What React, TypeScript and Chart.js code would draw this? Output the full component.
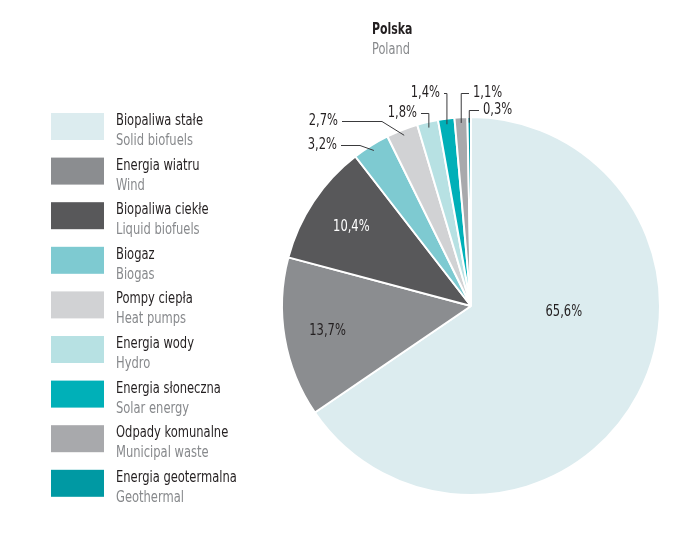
import React, { useEffect, useRef } from "react";
import { Chart, registerables } from "chart.js";

Chart.register(...registerables);

const categoriesPl = [
  "Biopaliwa stałe",
  "Energia wiatru",
  "Biopaliwa ciekłe",
  "Biogaz",
  "Pompy ciepła",
  "Energia wody",
  "Energia słoneczna",
  "Odpady komunalne",
  "Energia geotermalna",
];
const categoriesEn = [
  "Solid biofuels",
  "Wind",
  "Liquid biofuels",
  "Biogas",
  "Heat pumps",
  "Hydro",
  "Solar energy",
  "Municipal waste",
  "Geothermal",
];
const shares = [65.6, 13.7, 10.4, 3.2, 2.7, 1.8, 1.4, 1.1, 0.3];
const colors = [
  "#dcecef",
  "#8b8d90",
  "#58585a",
  "#7ecad1",
  "#d1d2d4",
  "#b7e1e3",
  "#00b0b8",
  "#a8a9ac",
  "#0099a3",
];
const titlePl = "Polska";
const titleEn = "Poland";

const FONT = "'DejaVu Sans Condensed', 'DejaVu Sans', sans-serif";
const DARK = "#231f20";
const GREY = "#87898c";
const SX = 0.8; // horizontal condensing of text

// label placement (relative to pie centre)
type Place =
  | { type: "in"; r: number; angle?: number; color?: string }
  | { type: "out"; side: "left" | "right"; tx: number; ty: number; elbowX?: number };
const placements: Place[] = [
  { type: "in", r: 93, angle: 3.7 },
  { type: "in", r: 0.77 },
  { type: "in", r: 0.76, color: "#ffffff" },
  { type: "out", side: "left", tx: -134, ty: -161, elbowX: -111 },
  { type: "out", side: "left", tx: -133, ty: -185, elbowX: -89 },
  { type: "out", side: "left", tx: -54, ty: -193 },
  { type: "out", side: "left", tx: -31, ty: -213 },
  { type: "out", side: "right", tx: 2, ty: -213 },
  { type: "out", side: "right", tx: 12, ty: -196 },
];

const fmt = (v: number) => v.toFixed(1).replace(".", ",") + "%";

function drawText(
  ctx: CanvasRenderingContext2D,
  text: string,
  x: number,
  y: number,
  align: CanvasTextAlign,
  sx = SX
) {
  ctx.save();
  ctx.translate(x, y);
  ctx.scale(sx, 1);
  ctx.textAlign = align;
  ctx.fillText(text, 0, 0);
  ctx.restore();
}

const overlay = {
  id: "overlay",
  afterDraw(chart: any) {
    const ctx = chart.ctx as CanvasRenderingContext2D;
    ctx.save();
    // title
    ctx.textBaseline = "alphabetic";
    ctx.fillStyle = DARK;
    ctx.font = `bold 16px ${FONT}`;
    drawText(ctx, titlePl, 364, 26, "left", 0.76);
    ctx.fillStyle = GREY;
    ctx.font = `16px ${FONT}`;
    drawText(ctx, titleEn, 364, 46, "left", 0.79);

    // legend
    for (let i = 0; i < categoriesPl.length; i++) {
      const top = 105 + i * 44.6;
      ctx.fillStyle = colors[i];
      ctx.fillRect(43, top, 53, 27);
      ctx.font = `16px ${FONT}`;
      ctx.fillStyle = DARK;
      drawText(ctx, categoriesPl[i], 108, top + 12, "left");
      ctx.fillStyle = GREY;
      drawText(ctx, categoriesEn[i], 108, top + 32, "left");
    }

    // value labels
    const meta = chart.getDatasetMeta(0);
    ctx.font = `16px ${FONT}`;
    ctx.strokeStyle = "#3a3a3c";
    ctx.lineWidth = 1;
    ctx.textBaseline = "middle";
    meta.data.forEach((arc: any, i: number) => {
      const p = arc.getProps(["x", "y", "startAngle", "endAngle", "outerRadius"], true);
      const mid = (p.startAngle + p.endAngle) / 2;
      const pl = placements[i];
      const text = fmt(shares[i]);
      if (pl.type === "in") {
        const ang = pl.angle !== undefined ? (pl.angle * Math.PI) / 180 : mid;
        const r = pl.r <= 1 ? pl.r * p.outerRadius : pl.r;
        ctx.fillStyle = pl.color || DARK;
        drawText(ctx, text, p.x + Math.cos(ang) * r, p.y + Math.sin(ang) * r, "center");
      } else {
        const ex = p.x + Math.cos(mid) * p.outerRadius * 0.97;
        const ey = p.y + Math.sin(mid) * p.outerRadius * 0.97;
        const ty = p.y + pl.ty;
        const tx = p.x + pl.tx;
        ctx.fillStyle = DARK;
        drawText(ctx, text, tx, ty, pl.side === "left" ? "right" : "left");
        const sx = pl.side === "left" ? tx + 4 : tx - 4;
        const elx = pl.elbowX !== undefined ? p.x + pl.elbowX : ex;
        ctx.beginPath();
        ctx.moveTo(sx, Math.round(ty) + 0.5);
        ctx.lineTo(elx, Math.round(ty) + 0.5);
        ctx.lineTo(ex, ey);
        ctx.stroke();
      }
    });
    ctx.restore();
  },
};

export default function App() {
  const ref = useRef<HTMLCanvasElement>(null);
  useEffect(() => {
    if (!ref.current) return;
    const chart = new Chart(ref.current, {
      type: "pie",
      data: {
        labels: categoriesPl,
        datasets: [
          {
            data: shares,
            backgroundColor: colors,
            borderColor: "#ffffff",
            borderWidth: 2,
            radius: 189,
          } as any,
        ],
      },
      options: {
        responsive: false,
        animation: false,
        layout: { padding: { left: 260, right: 14, top: 100, bottom: 37 } },
        plugins: { legend: { display: false }, tooltip: { enabled: false } },
      },
      plugins: [overlay],
    });
    return () => chart.destroy();
  }, []);
  return <canvas ref={ref} width={680} height={533} style={{ display: "block" }} />;
}
